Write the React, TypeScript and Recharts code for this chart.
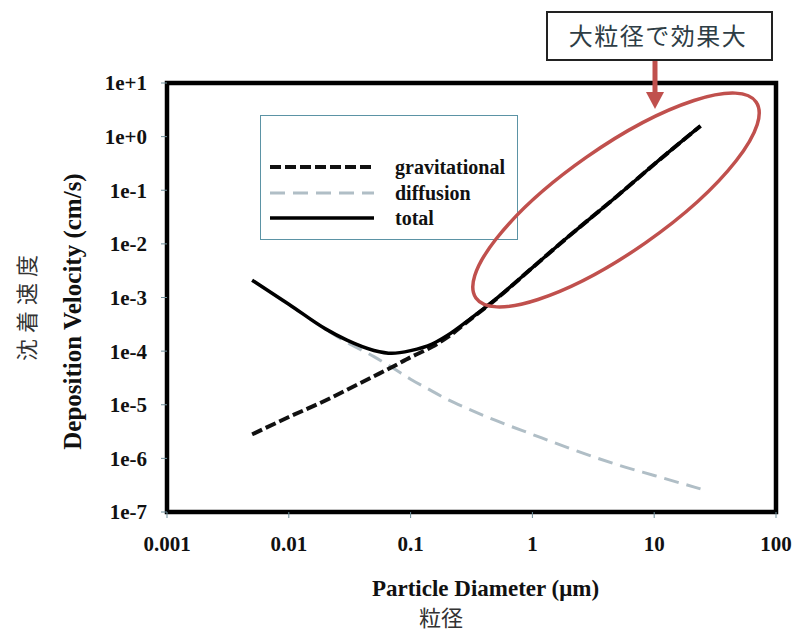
import React from "react";
import {
  LineChart,
  Line,
  XAxis,
  YAxis,
  ReferenceArea,
} from "recharts";

// particle diameter (um) and deposition velocity (cm/s)
const diameters = [0.005, 0.01, 0.02, 0.03, 0.05, 0.07, 0.1, 0.15, 0.2, 0.3, 0.5, 1, 2, 5, 10, 24];
const gravitational = [2.8e-6, 5.9e-6, 1.2e-5, 1.9e-5, 3.4e-5, 5.0e-5, 7.7e-5, 1.2e-4, 1.8e-4, 3.7e-4, 9.2e-4, 3.6e-3, 1.4e-2, 7.9e-2, 3.05e-1, 1.58];
const diffusion = [2.1e-3, 7.4e-4, 2.55e-4, 1.45e-4, 7.9e-5, 5.0e-5, 3.0e-5, 1.8e-5, 1.26e-5, 8.3e-6, 5.1e-6, 2.8e-6, 1.55e-6, 7.6e-7, 4.8e-7, 2.7e-7];
const total = [2.1e-3, 7.5e-4, 2.6e-4, 1.6e-4, 1.03e-4, 9.1e-5, 1.02e-4, 1.35e-4, 1.95e-4, 3.8e-4, 9.3e-4, 3.6e-3, 1.4e-2, 7.9e-2, 3.05e-1, 1.58];

const xTicks = [0.001, 0.01, 0.1, 1, 10, 100];
const xTickLabels = ["0.001", "0.01", "0.1", "1", "10", "100"];
const yTicks = [1e-7, 1e-6, 1e-5, 1e-4, 1e-3, 1e-2, 1e-1, 1, 10];
const yTickLabels = ["1e-7", "1e-6", "1e-5", "1e-4", "1e-3", "1e-2", "1e-1", "1e+0", "1e+1"];

const rows = diameters.map((d, i) => ({
  d,
  gravitational: gravitational[i],
  diffusion: diffusion[i],
  total: total[i],
}));

const series = [
  { key: "gravitational", color: "#111", dash: "11 4", width: 4 },
  { key: "diffusion", color: "#b0bec6", dash: "15 8", width: 3 },
  { key: "total", color: "#000", dash: undefined, width: 3.5 },
];

const serif = "'Liberation Serif', 'Times New Roman', serif";
const cjk = "'Noto Sans CJK JP', sans-serif";
const red = "#c0504d";

const tickStyle = { fill: "#111", fontFamily: serif, fontWeight: 700, fontSize: 21 };

function LegendBox() {
  return (
    <div
      style={{
        position: "absolute",
        left: 260,
        top: 115,
        width: 256,
        height: 123,
        border: "1.5px solid #5b93a5",
        background: "#fff",
      }}
    >
      {series.map((s, i) => (
        <div
          key={s.key}
          style={{ position: "absolute", left: 9, top: 39 + i * 25.5, height: 24, display: "flex", alignItems: "center" }}
        >
          <svg width={106} height={10}>
            <line x1={0} y1={5} x2={104} y2={5} stroke={s.color} strokeWidth={s.width} strokeDasharray={s.dash} />
          </svg>
          <span
            style={{
              marginLeft: 19,
              fontFamily: serif,
              fontWeight: 700,
              fontSize: 20,
              color: "#111",
              lineHeight: "24px",
            }}
          >
            {s.key}
          </span>
        </div>
      ))}
    </div>
  );
}

function Annotations() {
  return (
    <svg width={796} height={631} style={{ position: "absolute", left: 0, top: 0, pointerEvents: "none" }}>
      <ellipse cx={616} cy={200} rx={171} ry={52} fill="none" stroke={red} strokeWidth={3.5} transform="rotate(-35 616 200)" />
      <rect x={547} y={12} width={225} height={48} fill="#fff" stroke="#222" strokeWidth={2} />
      <text x={658} y={45} textAnchor="middle" fontFamily={cjk} fontSize={24} fill="#2e3d45" letterSpacing={1.5}>
        大粒径で効果大
      </text>
      <line x1={655} y1={61} x2={655} y2={95} stroke={red} strokeWidth={5} />
      <polygon points="646,92 664,92 655,109" fill={red} />
      <text
        x={25}
        y={305}
        textAnchor="middle"
        dominantBaseline="central"
        fontFamily={cjk}
        fontSize={22}
        fill="#333"
        letterSpacing={6}
        transform="rotate(-90 25 305)"
      >
        沈着速度
      </text>
      <text x={441} y={626} textAnchor="middle" fontFamily={cjk} fontSize={22} fill="#333">
        粒径
      </text>
    </svg>
  );
}

export default function App() {
  return (
    <div style={{ position: "absolute", left: 0, top: 0, width: 796, height: 631, background: "#fff" }}>
      <LineChart width={796} height={631} data={rows} margin={{ top: 83, right: 20, bottom: 0, left: 0 }}>
        <XAxis
          dataKey="d"
          type="number"
          scale="log"
          domain={[0.001, 100]}
          ticks={xTicks}
          allowDataOverflow
          height={119}
          axisLine={false}
          tickLine={{ stroke: "#6f8f9b" }}
          tickSize={6}
          tickMargin={18}
          tick={tickStyle}
          tickFormatter={(v: number) => xTickLabels[xTicks.indexOf(v)] ?? String(v)}
          label={{
            value: "Particle Diameter (\u03bcm)",
            position: "insideBottom",
            offset: 35,
            dx: 14,
            style: { fill: "#111", fontFamily: serif, fontWeight: 700, fontSize: 23 },
          }}
        />
        <YAxis
          type="number"
          scale="log"
          domain={[1e-7, 10]}
          ticks={yTicks}
          allowDataOverflow
          width={167}
          axisLine={false}
          tickLine={{ stroke: "#6f8f9b" }}
          tickSize={6}
          tickMargin={14}
          tick={tickStyle}
          tickFormatter={(v: number) => yTickLabels[yTicks.indexOf(v)] ?? String(v)}
          label={{
            value: "Deposition Velocity (cm/s)",
            angle: -90,
            position: "insideLeft",
            offset: 72,
            dy: 14,
            style: { textAnchor: "middle", fill: "#111", fontFamily: serif, fontWeight: 700, fontSize: 25 },
          }}
        />
        <Line
          dataKey="diffusion"
          type="monotone"
          stroke={series[1].color}
          strokeWidth={series[1].width}
          strokeDasharray={series[1].dash}
          dot={false}
          isAnimationActive={false}
        />
        <Line
          dataKey="gravitational"
          type="monotone"
          stroke={series[0].color}
          strokeWidth={series[0].width}
          strokeDasharray={series[0].dash}
          dot={false}
          isAnimationActive={false}
        />
        <Line
          dataKey="total"
          type="monotone"
          stroke={series[2].color}
          strokeWidth={series[2].width}
          dot={false}
          isAnimationActive={false}
        />
        <ReferenceArea x1={0.001} x2={100} y1={1e-7} y2={10} fill="none" stroke="#000" strokeWidth={4.5} />
      </LineChart>
      <LegendBox />
      <Annotations />
    </div>
  );
}
